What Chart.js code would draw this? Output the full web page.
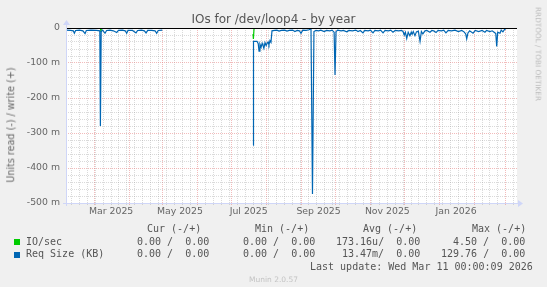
<!DOCTYPE html>
<html>
<head>
<meta charset="utf-8">
<script src="https://cdn.jsdelivr.net/npm/chart.js@4"></script>
<style>
html, body { margin: 0; padding: 0; background: #f0f0f0; }
#wrap { position: relative; width: 547px; height: 287px; overflow: hidden; font-family: 'DejaVu Sans', sans-serif; color: #666; }
canvas { position: absolute; left: 0; top: 0; }
.t { position: absolute; white-space: pre; line-height: 1; }
.mono { font-family: 'DejaVu Sans Mono', monospace; font-size: 10px; color: #555; }
.box { position: absolute; width: 6px; height: 6px; }
</style>
</head>
<body>
<div id="wrap">
  <canvas id="chart" width="547" height="287"></canvas>
  <div class="t" style="left:0;width:547px;text-align:center;top:13px;font-size:12px;color:#555">IOs for /dev/loop4 - by year</div>
  <div class="t" style="left:10.5px;top:125px;font-size:9.6px;transform:translate(-50%,-50%) rotate(-90deg)">Units read (-) / write (+)</div>
  <div class="t" style="left:538px;top:53.5px;font-size:7.3px;color:#bbb;transform:translate(-50%,-50%) rotate(90deg)">RRDTOOL / TOBI OETIKER</div>

  <div class="t mono" style="left:147px;top:223.5px">Cur (-/+)</div>
  <div class="t mono" style="left:255px;top:223.5px">Min (-/+)</div>
  <div class="t mono" style="left:363px;top:223.5px">Avg (-/+)</div>
  <div class="t mono" style="left:472px;top:223.5px">Max (-/+)</div>

  <div class="box" style="left:14px;top:239px;background:#00cc00"></div>
  <div class="t mono" style="left:26px;top:236.5px">IO/sec</div>
  <div class="t mono" style="left:137px;top:236.5px">0.00 /  0.00</div>
  <div class="t mono" style="left:243px;top:236.5px">0.00 /  0.00</div>
  <div class="t mono" style="left:336px;top:236.5px">173.16u/  0.00</div>
  <div class="t mono" style="left:453px;top:236.5px">4.50 /  0.00</div>

  <div class="box" style="left:14px;top:251.5px;background:#0066b3"></div>
  <div class="t mono" style="left:26px;top:249.2px">Req Size (KB)</div>
  <div class="t mono" style="left:137px;top:249.2px">0.00 /  0.00</div>
  <div class="t mono" style="left:243px;top:249.2px">0.00 /  0.00</div>
  <div class="t mono" style="left:342px;top:249.2px">13.47m/  0.00</div>
  <div class="t mono" style="left:441px;top:249.2px">129.76 /  0.00</div>

  <div class="t mono" style="left:310px;top:261.8px">Last update: Wed Mar 11 00:00:09 2026</div>
  <div class="t" style="left:0;width:547px;text-align:center;top:276px;font-size:7.5px;color:#c4c4c4">Munin 2.0.57</div>
</div>
<script>
// x values are days since 1 Mar 2025
const monthStarts = [0, 31, 61, 92, 122, 153, 184, 214, 245, 275, 306, 337, 365];
const monthLabels = ['Mar 2025', 'May 2025', 'Jul 2025', 'Sep 2025', 'Nov 2025', 'Jan 2026'];
const labelDays = [15, 76, 137, 199, 260, 321];
const yTickLabels = ['0', '-100 m', '-200 m', '-300 m', '-400 m', '-500 m'];

// Req Size (KB), read side (negative)
const reqDay = [
  -25, -21, -18.5, -17.6, -16.5, -13, -10, -8.1, -7, -3, 2, 5, 5.5, 6.2, 7.5, 9.6, 11, 14, 17, 20,
  21.5, 25, 27.5, 28.8, 30, 34, 37.1, 38.5, 42, 44.5, 46, 47.5, 51, 54, 55.4, 56.8, 60.4, 61,
  140.9, 141.3, 144.4, 145.5, 146.2, 147, 148, 149, 149.7, 150.5, 151.5, 152.5, 153.3, 154.2, 155,
  155.9, 156.8, 157.7, 160, 162, 164, 166, 169, 171, 173, 176, 178, 180, 182, 183.4, 185, 188,
  190.5, 192.3, 193.6, 194.9, 196.7, 199, 201, 204, 206, 209, 211, 212.8, 213.6, 214.5, 216, 219,
  221, 224, 226, 229, 232, 234, 236, 238.4, 240, 243, 245, 247.3, 249, 252, 254, 256.2, 258, 261,
  263, 265, 267, 270, 272.5, 273.9, 275, 276, 277.2, 278.5, 280, 281.2, 282, 283, 284.5, 285.8,
  287.5, 289, 290.2, 291.5, 293.4, 295, 297.8, 299.5, 301, 303.2, 305, 308, 310, 312, 314, 317,
  320, 323, 326, 328, 329.5, 330.4, 331.5, 333, 336, 338, 341, 344, 346.6, 348, 351, 353, 355,
  356.2, 357, 357.9, 359.9, 361, 362.5, 364, 365.2
];
const reqRead = [
  -0.006, -0.007, -0.008, -0.015, -0.007, -0.006, -0.008, -0.016, -0.007, -0.006, -0.007, -0.008, -0.280, -0.010, -0.006, -0.015, -0.007, -0.006, -0.008, -0.013,
  -0.007, -0.006, -0.008, -0.015, -0.007, -0.007, -0.014, -0.007, -0.006, -0.008, -0.014, -0.007, -0.007, -0.008, -0.015, -0.007, -0.006, null,
  -0.335, -0.038, -0.038, -0.045, -0.066, -0.046, -0.055, -0.044, -0.050, -0.058, -0.042, -0.050, -0.044, -0.040, -0.048,
  -0.036, -0.041, -0.008, -0.007, -0.006, -0.009, -0.007, -0.006, -0.009, -0.007, -0.006, -0.010, -0.007, -0.008, -0.015, -0.006, -0.007,
  -0.005, -0.002, -0.474, -0.010, -0.007, -0.008, -0.006, -0.010, -0.007, -0.008, -0.006, -0.012, -0.134, -0.010, -0.006, -0.008,
  -0.007, -0.011, -0.007, -0.008, -0.006, -0.010, -0.007, -0.014, -0.007, -0.008, -0.006, -0.014, -0.007, -0.008, -0.006, -0.014, -0.007, -0.008,
  -0.006, -0.012, -0.007, -0.008, -0.007, -0.010, -0.020, -0.012, -0.030, -0.012, -0.022, -0.012, -0.018, -0.010, -0.022, -0.011,
  -0.009, -0.038, -0.010, -0.017, -0.008, -0.007, -0.012, -0.007, -0.008, -0.013, -0.007, -0.008, -0.006, -0.014, -0.007, -0.008,
  -0.006, -0.010, -0.007, -0.011, -0.017, -0.031, -0.014, -0.008, -0.015, -0.007, -0.010, -0.007, -0.012, -0.007, -0.010, -0.008, -0.013,
  -0.016, -0.053, -0.012, -0.015, -0.006, -0.011, -0.004, -0.002
];

// IO/sec, read side (negative)
const ioDay = [-25, 5.6, 6.0, 6.4, 60.4, 61, 140.9, 141.2, 141.8, 365.2];
const ioRead = [-0.0003, -0.0003, -0.011, -0.0003, -0.0003, null, -0.017, -0.031, -0.0004, -0.0003];

const MAJOR = 'rgba(230,120,120,0.5)';
const MINOR = 'rgba(150,150,150,0.35)';
const NONE = 'rgba(0,0,0,0)';
const TXT = '#666';
const FONT = { family: 'DejaVu Sans', size: 9.33 };

const weekDays = [];
for (let d = -20; d <= 375; d += 7) {
  if (!monthStarts.includes(d)) weekDays.push(d);
}
const xTicks = [...new Set([...monthStarts, ...weekDays, ...labelDays])].sort((a, b) => a - b);

const yTicks = [];
for (let k = 25; k >= 0; k--) yTicks.push(Number((-k * 0.02).toFixed(2)));

function xGridColor(ctx) {
  const v = ctx.tick ? ctx.tick.value : null;
  if (monthStarts.includes(v)) return MAJOR;
  if (weekDays.includes(v)) return MINOR;
  return NONE;
}
function yGridColor(ctx) {
  if (!ctx.tick) return NONE;
  const k = Math.round(-ctx.tick.value / 0.02);
  if (k === 0) return NONE;
  return k % 5 === 0 ? MAJOR : MINOR;
}

const rrdDecor = {
  id: 'rrdDecor',
  beforeDraw(chart) {
    const a = chart.chartArea, c = chart.ctx;
    c.save();
    c.fillStyle = '#ffffff';
    c.fillRect(a.left, a.top, a.right - a.left, a.bottom - a.top);
    c.restore();
  },
  afterDatasetsDraw(chart) {
    const a = chart.chartArea, c = chart.ctx;
    const y0 = Math.round(chart.scales.y.getPixelForValue(0));
    c.save();
    c.fillStyle = '#000000';
    c.fillRect(a.left, y0, a.right - a.left, 1);
    // axes with arrows
    c.fillStyle = '#CFD6F8';
    c.fillRect(a.left, a.top - 6, 1, a.bottom - a.top + 9);
    c.fillRect(a.left - 3, a.bottom, a.right - a.left + 5, 1);
    c.beginPath();
    c.moveTo(a.left - 3, a.top - 3); c.lineTo(a.left + 4, a.top - 3); c.lineTo(a.left + 0.5, a.top - 8);
    c.closePath(); c.fill();
    c.beginPath();
    c.moveTo(a.right + 1, a.bottom - 3); c.lineTo(a.right + 1, a.bottom + 4); c.lineTo(a.right + 6, a.bottom + 0.5);
    c.closePath(); c.fill();
    c.restore();
  }
};

new Chart(document.getElementById('chart'), {
  type: 'line',
  data: {
    datasets: [
      {
        label: 'Req Size (KB)',
        data: reqDay.map((d, i) => ({ x: d, y: reqRead[i] })),
        borderColor: '#0066b3',
        borderWidth: 1.2,
        pointRadius: 0,
        spanGaps: false,
        order: 0
      },
      {
        label: 'IO/sec',
        data: ioDay.map((d, i) => ({ x: d, y: ioRead[i] })),
        borderColor: '#00cc00',
        borderWidth: 1.2,
        pointRadius: 0,
        spanGaps: false,
        order: 1
      }
    ]
  },
  options: {
    responsive: false,
    animation: false,
    events: [],
    layout: { padding: { left: 0, right: 30, top: 28, bottom: 64 } },
    plugins: { legend: { display: false }, tooltip: { enabled: false }, title: { display: false } },
    scales: {
      x: {
        type: 'linear',
        min: -25,
        max: 375,
        afterBuildTicks: s => { s.ticks = xTicks.map(v => ({ value: v })); },
        afterFit: s => { s.height = 20; },
        ticks: {
          autoSkip: false,
          maxRotation: 0,
          padding: 1,
          color: TXT,
          font: FONT,
          callback: v => {
            const i = labelDays.indexOf(v);
            return i >= 0 ? monthLabels[i] : '';
          }
        },
        grid: { color: xGridColor, tickColor: xGridColor, tickLength: 2, lineWidth: 1 },
        border: { display: false, dash: [1, 1] }
      },
      y: {
        type: 'linear',
        min: -0.5,
        max: 0,
        afterBuildTicks: s => { s.ticks = yTicks.map(v => ({ value: v })); },
        afterFit: s => { s.width = 66; },
        ticks: {
          autoSkip: false,
          padding: 4,
          color: TXT,
          font: FONT,
          callback: v => {
            const k = Math.round(-v / 0.02);
            return k % 5 === 0 ? yTickLabels[k / 5] : '';
          }
        },
        grid: { color: yGridColor, tickColor: NONE, tickLength: 2, lineWidth: 1 },
        border: { display: false, dash: [1, 1] }
      }
    }
  },
  plugins: [rrdDecor]
});
</script>
</body>
</html>
